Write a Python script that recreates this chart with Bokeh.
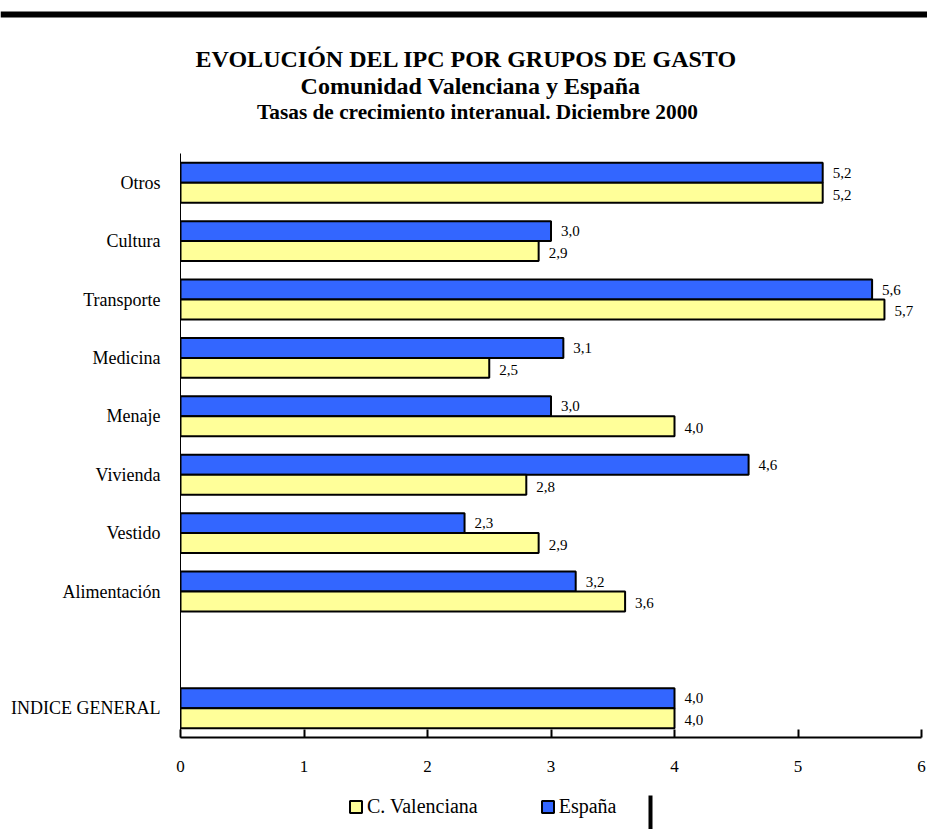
from bokeh.plotting import figure
from bokeh.layouts import column
from bokeh.models import (ColumnDataSource, FactorRange, Range1d, Legend,
                          LegendItem, SingleIntervalTicker)
from bokeh.core.properties import value
from bokeh.transform import dodge
from bokeh.embed import file_html
from bokeh.resources import INLINE

# ---- data ----
factors_bottom_to_top = ["INDICE GENERAL", " ", "Alimentación", "Vestido", "Vivienda",
                         "Menaje", "Medicina", "Transporte", "Cultura", "Otros"]
categories = ["Otros", "Cultura", "Transporte", "Medicina", "Menaje",
              "Vivienda", "Vestido", "Alimentación", "INDICE GENERAL"]
espana = [5.2, 3.0, 5.6, 3.1, 3.0, 4.6, 2.3, 3.2, 4.0]
c_valenciana = [5.2, 2.9, 5.7, 2.5, 4.0, 2.8, 2.9, 3.6, 4.0]
x_ticks = [0, 1, 2, 3, 4, 5, 6]
series_names = ["C. Valenciana", "España"]

title1 = "EVOLUCIÓN DEL IPC POR GRUPOS DE GASTO"
title2 = "Comunidad Valenciana y España"
title3 = "Tasas de crecimiento interanual. Diciembre 2000"


def fmt(v):
    return f"{v:.1f}".replace(".", ",")


SERIF = "Liberation Serif"
YELLOW = "#FFFF99"
BLUE = "#3366FF"
W = 927
TOP_H = 125
MAIN_H = 660
BOT_H = 44
NAN = float("nan")


def bare(fig):
    fig.xgrid.grid_line_color = None
    fig.ygrid.grid_line_color = None
    fig.outline_line_color = None
    fig.background_fill_color = "white"
    fig.border_fill_color = "white"


# ---- top: heading block ----
top = figure(width=W, height=TOP_H, output_backend="svg", toolbar_location=None,
             x_range=Range1d(0, W), y_range=Range1d(TOP_H, 0),
             x_axis_location=None, y_axis_location=None, frame_align=False,
             min_border=0, min_border_left=0, min_border_right=0,
             min_border_top=0, min_border_bottom=0)
bare(top)
top.quad(left=[0], right=[W], top=[11], bottom=[17], fill_color="black", line_color=None)
heads = ColumnDataSource(dict(
    x=[466, 470, 477], y=[58, 85, 111], t=[title1, title2, title3],
    s=["24px", "24px", "21.3px"]))
top.text(x="x", y="y", text="t", source=heads, text_font=value(SERIF),
         text_font_style="bold", text_font_size="s", text_align="center",
         text_baseline="alphabetic", text_color="black")

# ---- main chart ----
src = ColumnDataSource(dict(
    cat=categories,
    esp=espana,
    cv=c_valenciana,
    esp_lbl=[fmt(v) for v in espana],
    cv_lbl=[fmt(v) for v in c_valenciana],
))

p = figure(width=W, height=MAIN_H, output_backend="svg", toolbar_location=None,
           y_range=FactorRange(factors=factors_bottom_to_top),
           x_range=Range1d(x_ticks[0], x_ticks[-1]), frame_align=False,
           min_border_left=180, min_border_right=6, min_border_top=28,
           min_border_bottom=48)
p.y_range.range_padding = 0
bare(p)

bh = 0.342
r_es = p.hbar(y=dodge("cat", bh / 2, range=p.y_range), left=0, right="esp", height=bh,
              source=src, fill_color=BLUE, line_color="black", line_width=2)
r_cv = p.hbar(y=dodge("cat", -bh / 2, range=p.y_range), left=0, right="cv", height=bh,
              source=src, fill_color=YELLOW, line_color="black", line_width=2)

p.text(x="esp", y=dodge("cat", bh / 2, range=p.y_range), text="esp_lbl", source=src,
       x_offset=10, text_align="left", text_baseline="middle",
       text_font=value(SERIF), text_font_size="15px", text_color="black")
p.text(x="cv", y=dodge("cat", -bh / 2, range=p.y_range), text="cv_lbl", source=src,
       x_offset=10, y_offset=2, text_align="left", text_baseline="middle",
       text_font=value(SERIF), text_font_size="15px", text_color="black")

xa = p.xaxis[0]
xa.ticker = SingleIntervalTicker(interval=1)
xa.minor_tick_line_color = None
xa.major_tick_in = 8
xa.major_tick_out = 0
xa.major_tick_line_width = 2
xa.major_tick_line_color = "black"
xa.axis_line_width = 2
xa.axis_line_color = "black"
xa.major_label_standoff = 19
xa.major_label_text_font = SERIF
xa.major_label_text_font_size = "17px"
xa.major_label_text_color = "black"

ya = p.yaxis[0]
ya.major_tick_line_color = None
ya.minor_tick_line_color = None
ya.axis_line_color = "black"
ya.axis_line_width = 1
ya.major_label_standoff = 14
ya.major_label_text_font = SERIF
ya.major_label_text_font_size = "18px"
ya.major_label_text_color = "black"

# ---- bottom: legend strip ----
bot = figure(width=W, height=BOT_H, output_backend="svg", toolbar_location=None,
             x_range=Range1d(0, W), y_range=Range1d(BOT_H, 0),
             x_axis_location=None, y_axis_location=None, frame_align=False,
             min_border=0, min_border_left=0, min_border_right=0,
             min_border_top=0, min_border_bottom=0)
bare(bot)
bot.quad(left=[648], right=[652], top=[10], bottom=[BOT_H], fill_color="black",
         line_color=None)
# legend keys (swatch renderers only, nothing drawn in the strip itself)
key_cv = bot.hbar(y=[NAN], left=[NAN], right=[NAN], height=1, fill_color=YELLOW,
                  line_color="black", line_width=2)
key_es = bot.hbar(y=[NAN], left=[NAN], right=[NAN], height=1, fill_color=BLUE,
                  line_color="black", line_width=2)
legend = Legend(items=[LegendItem(label=series_names[0], renderers=[key_cv]),
                       LegendItem(label=series_names[1], renderers=[key_es])],
                location=(348, 11), orientation="horizontal",
                glyph_width=15, glyph_height=15, label_standoff=4, spacing=62,
                padding=0, margin=0, label_height=20,
                label_text_font=SERIF, label_text_font_size="20px",
                label_text_color="black", background_fill_alpha=0,
                border_line_alpha=0)
bot.add_layout(legend, "center")

layout = column(top, p, bot, spacing=0)
open("out.html", "w").write(file_html(layout, INLINE))
